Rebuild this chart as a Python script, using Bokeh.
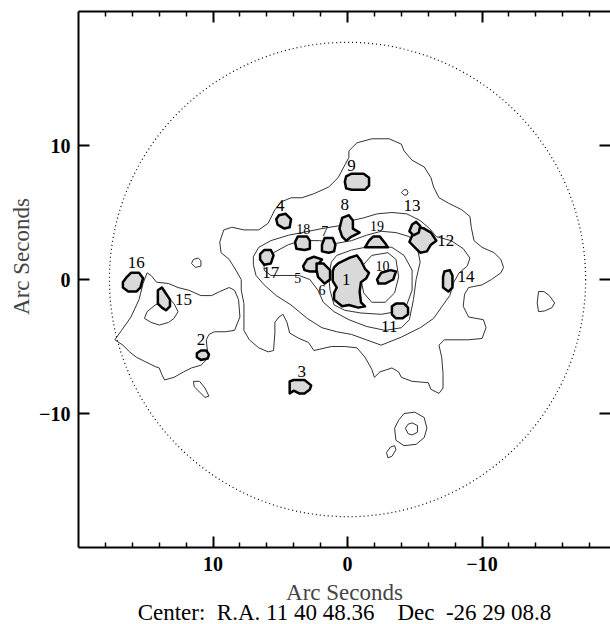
from bokeh.plotting import figure
from bokeh.models import Range1d, LinearAxis, FixedTicker, Title
from bokeh.core.properties import value
from bokeh.embed import file_html
from bokeh.resources import INLINE

# ---------------- data (arc seconds; x = RA offset, east to the left) ----------------
contour_outer = [(-0.1,9.6),(-0.7,10.2),(-1.8,10.5),(-3.1,10.5),(-4.0,10.1),(-4.2,9.6),(-4.8,8.9),(-5.7,8.4),
    (-6.2,7.6),(-6.4,6.9),(-6.8,6.1),(-7.5,5.7),(-8.5,5.2),(-9.1,4.7),(-9.2,3.9),(-9.4,2.9),(-10.0,2.4),
    (-10.9,2.0),(-11.4,1.5),(-11.6,0.9),(-11.4,0.5),(-10.7,0.0),(-10.0,-0.4),(-9.0,-0.6),(-8.7,-1.1),
    (-8.6,-2.0),(-9.0,-2.8),(-10.1,-3.0),(-10.3,-3.6),(-10.0,-4.4),(-9.0,-4.5),(-7.2,-4.5),(-6.8,-4.9),
    (-7.0,-5.8),(-7.1,-7.0),(-7.1,-8.1),(-6.8,-8.5),(-6.2,-8.2),(-6.0,-7.7),(-4.8,-7.6),(-4.0,-7.3),
    (-3.8,-6.9),(-3.3,-6.6),(-2.4,-6.9),(-2.0,-7.3),(-1.8,-6.7),(-1.3,-5.8),(-0.7,-5.1),(0.2,-5.0),
    (1.2,-5.0),(2.5,-5.3),(2.9,-4.7),(3.6,-4.4),(4.3,-4.0),(4.5,-3.2),(4.8,-2.6),(5.1,-2.8),(5.4,-3.2),
    (5.4,-4.0),(5.5,-5.3),(5.9,-5.4),(6.6,-5.1),(7.3,-4.5),(7.7,-3.8),(7.7,-2.8),(7.7,-1.8),(7.9,-0.8),
    (7.9,0.0),(8.3,0.7),(8.8,1.5),(9.4,2.0),(9.5,2.8),(9.2,3.7),(8.6,3.9),(7.7,3.7),(6.6,3.7),(5.9,4.2),
    (5.4,5.2),(4.9,5.8),(4.2,6.1),(3.4,6.1),(2.5,6.4),(1.4,6.9),(0.7,7.6),(-0.1,9.1)]
contour_west = [(17.3,-4.5),(16.8,-3.8),(16.1,-2.8),(15.5,-1.5),(15.2,-0.3),(14.9,0.5),(14.6,0.3),(14.2,-0.2),
    (13.3,-0.3),(12.6,-0.6),(11.8,-0.8),(10.9,-1.2),(10.1,-1.2),(9.5,-0.9),(8.8,-0.6),(8.4,-0.8),(8.1,-1.5),
    (8.0,-2.8),(8.4,-3.8),(9.1,-3.9),(9.9,-3.9),(10.3,-4.1),(10.5,-4.5),(10.4,-5.5),(10.5,-6.0),(10.9,-6.4),
    (11.6,-6.6),(12.2,-6.9),(12.9,-7.3),(13.6,-7.5),(13.8,-7.1),(14.0,-6.6),(14.3,-6.5),(15.1,-6.1),
    (15.7,-5.8),(16.2,-5.4),(16.7,-4.9)]
contour_west_inner = [(15.1,-2.9),(14.9,-2.4),(14.3,-1.9),(13.8,-1.7),(13.2,-1.5),(12.9,-1.8),(12.6,-2.4),
    (12.9,-2.9),(13.3,-3.2),(14.0,-3.4),(14.6,-3.2)]
contour_level2 = [(7.0,1.7),(6.6,2.4),(5.7,2.9),(4.4,3.3),(3.4,3.5),(1.9,3.8),(0.7,4.0),(-0.3,4.4),(-1.2,4.6),
    (-2.2,4.9),(-3.3,5.0),(-4.4,4.9),(-5.4,4.4),(-6.1,3.8),(-6.6,3.2),(-7.7,2.9),(-8.6,2.3),(-9.1,1.6),
    (-8.9,1.0),(-8.3,0.5),(-7.9,-0.2),(-7.6,-1.2),(-7.1,-1.9),(-6.4,-2.9),(-5.4,-3.6),(-4.0,-4.3),
    (-2.5,-4.9),(-1.4,-4.5),(-0.3,-4.1),(0.8,-3.9),(1.9,-3.6),(3.0,-2.9),(4.2,-1.9),(5.3,-1.2),(6.2,-0.4),
    (6.8,0.3),(7.0,1.1)]
contour_level3 = [(3.4,2.9),(4.4,2.6),(5.5,2.0),(6.2,1.3),(6.2,0.7),(5.7,0.3),(4.5,0.3),(3.6,0.3),(2.8,0.0),
    (2.2,-0.8),(1.8,-1.7),(1.0,-2.4),(-0.1,-3.0),(-1.4,-3.5),(-2.8,-3.8),(-4.0,-3.6),(-4.6,-3.0),(-4.9,-1.5),
    (-5.1,0.0),(-5.4,1.3),(-5.2,2.3),(-4.6,3.2),(-3.6,3.5),(-2.5,3.6),(-1.4,3.3),(-0.3,2.9),(0.8,2.7),(2.1,2.9)]
contour_level4 = [(0.8,1.8),(-0.3,2.2),(-1.8,2.5),(-3.3,2.4),(-4.2,1.8),(-4.8,0.7),(-4.8,-0.8),(-4.4,-1.9),
    (-3.6,-2.4),(-2.5,-2.6),(-1.0,-2.5),(0.2,-2.3),(1.0,-1.9),(1.3,-0.8),(1.4,0.3),(1.2,1.3)]
contour_level5 = [(-1.0,0.9),(-1.8,1.8),(-3.0,2.0),(-3.6,1.5),(-3.8,0.2),(-3.5,-1.0),(-2.8,-1.7),(-1.8,-1.7),
    (-1.2,-1.0),(-1.0,0.0)]
contour_islands = [
    [(11.6,1.2),(11.45,1.5),(11.1,1.6),(10.9,1.4),(10.9,1.0),(11.3,0.9)],
    [(11.45,-7.6),(11.0,-7.6),(10.6,-8.1),(10.3,-8.7),(10.6,-8.8),(10.9,-8.5),(11.4,-8.0)],
    [(-3.5,-11.1),(-3.8,-10.5),(-4.2,-10.0),(-5.0,-9.9),(-5.7,-10.3),(-5.9,-11.1),(-5.7,-11.8),(-5.1,-12.3),
     (-4.2,-12.4),(-3.6,-12.0)],
    [(-4.3,-11.1),(-4.5,-10.8),(-4.8,-10.7),(-5.2,-10.9),(-5.2,-11.4),(-4.8,-11.6),(-4.5,-11.5)],
    [(-3.0,-13.3),(-2.9,-12.9),(-3.2,-12.5),(-3.5,-12.4),(-3.6,-12.7),(-3.3,-13.2)],
    [(-14.2,-0.9),(-14.6,-0.9),(-15.0,-1.2),(-15.4,-1.75),(-15.2,-2.1),(-14.65,-2.35),(-14.2,-2.4),(-14.1,-1.75)],
    [(-4.0,6.5),(-4.2,6.7),(-4.4,6.7),(-4.5,6.5),(-4.4,6.3),(-4.2,6.3)],
]

knot_ids = ["1","2","3","4","5","6","7","8","9","10","11","12","13","14","15","16","17","18","19"]
knot_outlines = [
    [(1.0,0.9),(0.7,1.2),(-0.1,1.6),(-0.7,1.8),(-1.0,1.4),(-1.3,0.8),(-1.6,0.5),(-1.4,0.1),(-1.0,-0.2),
     (-0.9,-0.9),(-1.0,-1.7),(-1.3,-2.0),(-0.8,-2.1),(-0.1,-1.9),(0.4,-2.0),(1.0,-1.5),(1.0,-1.0),(0.8,-0.6),
     (1.1,-0.1),(1.1,0.6)],
    [(11.2,-5.5),(10.9,-5.3),(10.5,-5.3),(10.3,-5.6),(10.4,-5.9),(10.9,-6.0),(11.2,-5.8)],
    [(4.3,-7.6),(4.0,-7.5),(3.2,-7.5),(2.7,-7.9),(2.8,-8.2),(3.2,-8.5),(3.6,-8.5),(4.0,-8.3),(4.3,-8.5)],
    [(5.1,4.8),(4.6,4.9),(4.2,4.5),(4.3,3.9),(4.7,3.8),(5.2,4.1),(5.3,4.5)],
    [(3.3,1.0),(3.0,1.5),(2.5,1.7),(1.9,1.5),(2.2,1.1),(2.3,0.6),(2.8,0.6),(3.2,0.7)],
    [(2.3,1.2),(1.8,1.2),(1.3,0.7),(1.3,0.0),(1.7,-0.3),(2.2,0.2),(2.3,0.7)],
    [(1.7,3.1),(1.1,3.1),(0.9,2.6),(1.0,2.1),(1.4,2.0),(1.9,2.1),(1.9,2.6)],
    [(0.4,4.6),(-0.1,4.8),(-0.4,4.4),(-0.4,3.8),(-0.9,3.5),(-0.3,3.2),(0.1,2.9),(0.4,3.2),(0.6,3.8)],
    [(0.1,7.7),(-0.3,7.9),(-1.2,7.9),(-1.6,7.6),(-1.6,7.0),(-1.3,6.7),(-0.3,6.7),(0.1,6.8),(0.2,7.3)],
    [(-2.2,0.0),(-2.5,0.5),(-3.2,0.7),(-3.6,0.6),(-3.4,0.0),(-2.8,-0.3),(-2.3,-0.3)],
    [(-3.6,-1.8),(-4.2,-1.8),(-4.5,-2.1),(-4.5,-2.6),(-4.1,-2.9),(-3.6,-2.9),(-3.3,-2.6),(-3.3,-2.0)],
    [(-4.6,2.8),(-4.9,3.5),(-5.3,3.9),(-5.7,3.8),(-6.2,3.5),(-6.6,2.9),(-6.2,2.6),(-5.9,2.1),(-5.4,2.0),(-5.0,2.4)],
    [(-4.8,4.1),(-5.1,4.3),(-5.4,4.0),(-5.3,3.5),(-4.9,3.3),(-4.6,3.6)],
    [(-7.2,0.6),(-7.6,0.7),(-7.8,0.3),(-7.8,-0.6),(-7.5,-0.9),(-7.1,-0.6),(-7.1,0.2)],
    [(14.1,-0.8),(13.8,-0.6),(13.6,-0.9),(13.2,-1.5),(13.2,-2.0),(13.5,-2.3),(13.8,-2.1),(14.1,-1.8),(14.1,-1.2)],
    [(16.7,-0.2),(16.4,0.2),(16.1,0.5),(15.5,0.5),(15.2,0.1),(15.4,-0.6),(15.7,-0.9),(16.3,-0.9),(16.7,-0.6)],
    [(6.2,2.2),(5.7,2.2),(5.5,1.8),(5.7,1.2),(6.2,1.1),(6.5,1.5),(6.5,1.9)],
    [(3.7,3.2),(3.0,3.2),(2.8,2.9),(2.8,2.3),(3.2,2.2),(3.8,2.3),(3.9,2.8)],
    [(-1.3,2.4),(-1.6,2.9),(-1.9,3.2),(-2.4,3.2),(-2.8,2.7),(-3.0,2.4)],
]
label_x = [0.1,10.9,3.4,5.0,3.7,1.9,1.7,0.2,-0.3,-2.6,-3.1,-7.3,-4.8,-8.8,12.2,15.7,5.7,3.3,-2.2]
label_y = [0.0,-4.5,-6.9,5.5,0.1,-0.8,3.6,5.6,8.5,1.0,-3.5,2.9,5.5,0.2,-1.5,1.3,0.5,3.8,4.0]
small_labels = {"5", "6", "7", "10", "18", "19"}

aperture_radius = 17.7
major_ticks = [-10, 0, 10]
minor_ticks = [-18, -16, -14, -12, -8, -6, -4, -2, 2, 4, 6, 8, 12, 14, 16, 18]
x_label = "Arc Seconds"
y_label = "\u00a0" * 8 + "Arc Seconds"
center_text = "Center:\u00a0\u00a0R.A. 11 40 48.36\u00a0\u00a0\u00a0\u00a0Dec\u00a0\u00a0-26 29 08.8"

# ---------------- figure ----------------
SERIF = "Liberation Serif"
p = figure(width=610, height=624, output_backend="svg", toolbar_location=None,
           x_range=Range1d(20, -19.55), y_range=Range1d(-20, 20),
           x_axis_type=None, y_axis_type=None,
           min_border_left=78, min_border_right=0, min_border_top=11, min_border_bottom=77)
p.outline_line_color = None
p.grid.visible = False
p.background_fill_color = "white"
p.border_fill_color = "white"

def style_axis(ax, labels=True, minor=True):
    ax.ticker = FixedTicker(ticks=major_ticks, minor_ticks=minor_ticks if minor else [])
    ax.axis_line_width = 2
    ax.axis_line_color = "black"
    ax.major_tick_in = 11
    ax.major_tick_out = 0
    ax.major_tick_line_width = 2
    ax.minor_tick_in = 5 if minor else 0
    ax.minor_tick_out = 0
    ax.minor_tick_line_width = 1.5
    if labels:
        ax.major_label_text_font = SERIF
        ax.major_label_text_font_style = "bold"
        ax.major_label_text_font_size = "20px"
        ax.major_label_text_color = "black"
    else:
        ax.major_label_overrides = {t: "" for t in major_ticks}
        ax.major_label_text_font_size = "1px"
        ax.major_label_standoff = 0

bottom = LinearAxis(axis_label=x_label)
style_axis(bottom)
bottom.major_label_standoff = 9
bottom.axis_label_text_font = SERIF
bottom.axis_label_text_font_style = "normal"
bottom.axis_label_text_font_size = "23px"
bottom.axis_label_standoff = 6
p.add_layout(bottom, "below")

left = LinearAxis(axis_label=y_label)
style_axis(left, minor=False)
left.major_label_standoff = 8
left.axis_label_text_font = SERIF
left.axis_label_text_font_style = "normal"
left.axis_label_text_font_size = "23px"
left.axis_label_standoff = 2
p.add_layout(left, "left")

top = LinearAxis()
style_axis(top, labels=False)
p.add_layout(top, "above")

right = LinearAxis()
style_axis(right, labels=False, minor=False)
right.axis_line_color = None
p.add_layout(right, "right")

p.add_layout(Title(text=center_text, align="center", text_font=SERIF, text_font_style="normal",
                   text_font_size="23px", text_color="black", standoff=-19), "below")

# aperture circle (dotted)
p.ellipse(x=[0], y=[0], width=[2 * aperture_radius], height=[2 * aperture_radius],
          fill_color=None, line_color="black", line_width=1.2, line_dash="1 3")

# contours
contours = [contour_outer, contour_west, contour_west_inner, contour_level2, contour_level3,
            contour_level4, contour_level5] + contour_islands
p.patches(xs=[[pt[0] for pt in c] for c in contours], ys=[[pt[1] for pt in c] for c in contours],
          fill_color=None, line_color="#333333", line_width=1.0)

# knots
p.patches(xs=[[pt[0] for pt in c] for c in knot_outlines], ys=[[pt[1] for pt in c] for c in knot_outlines],
          fill_color="#d9d9d9", line_color="black", line_width=2.5, line_join="round")

# knot labels
for kid, lx, ly in zip(knot_ids, label_x, label_y):
    p.text(x=[lx], y=[ly], text=[kid], text_font=value(SERIF),
           text_font_size="14px" if kid in small_labels else "17px",
           text_align="center", text_baseline="middle", text_color="black")

open("out.html", "w").write(file_html(p, INLINE))
